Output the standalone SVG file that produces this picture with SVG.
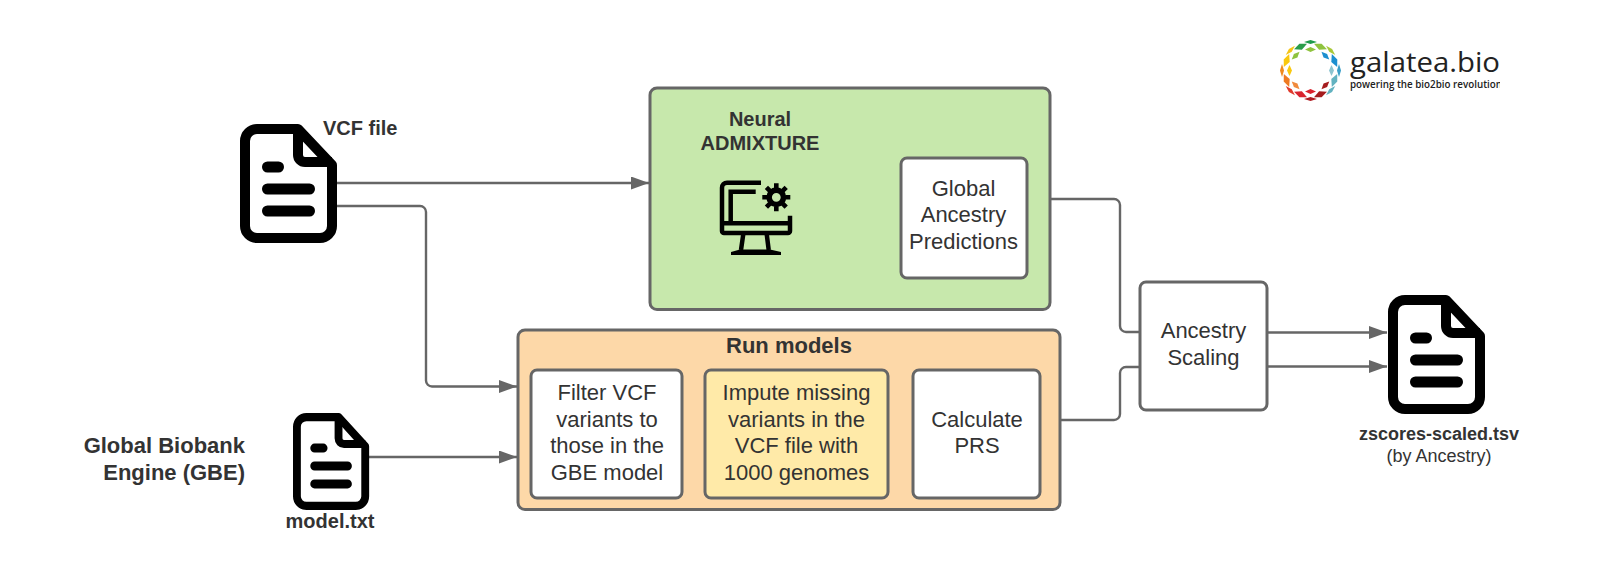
<svg xmlns="http://www.w3.org/2000/svg" width="1600" height="577" viewBox="0 0 1600 577">
<style>
text{font-family:"Liberation Sans",Arial,sans-serif;fill:#333}
.b{font-weight:700;font-size:20px}
.b22{font-weight:700;font-size:22px}
.t{font-size:22px;text-anchor:middle}
.m{text-anchor:middle}
.box{stroke:#666;stroke-width:3}
.c{fill:none;stroke:#666;stroke-width:2.400}
.ar{marker-end:url(#arrow)}
.k{fill:none;stroke:#000;stroke-width:4.500}
.lg{font-family:"Open Sans",sans-serif;fill:#222}
</style>
<defs>
<marker id="arrow" markerUnits="userSpaceOnUse" markerWidth="20" markerHeight="14" refX="18" refY="6.5" orient="auto"><path d="M0,0L18,6.5L0,13Z" fill="#666"/></marker>
<clipPath id="logoclip"><rect x="1345" y="40" width="155" height="60"/></clipPath>
<g id="doc">
<path d="M17,5H58L92,41V102a12,12 0 0 1-12,12H17a12,12 0 0 1-12-12V17a12,12 0 0 1 12-12Z" fill="#fff" stroke="#000" stroke-width="10" stroke-linejoin="round"/>
<path d="M58,5V31a7,7 0 0 0 7,7H92" fill="none" stroke="#000" stroke-width="10"/>
<path d="M27.500,43H38.500M27.500,65H69.500M27.500,87H69.500" fill="none" stroke="#000" stroke-width="11" stroke-linecap="round"/>
</g>
<path id="lo" d="M0,-30.500L6.500,-28.500L0,-26.500L-6.500,-28.500Z"/>
<path id="lm" d="M0,-29L7,-26L0,-22.500L-7,-26Z"/>
<path id="li" d="M0,-23.500L5.500,-21L0,-18.500L-5.500,-21Z"/>
</defs>
<rect width="1600" height="577" fill="#fff"/>
<g id="connectors">
<path class="c ar" d="M337,183H649"/>
<path class="c ar" d="M337,206H420a6,6 0 0 1 6,6V380.500a6,6 0 0 0 6,6H517"/>
<path class="c ar" d="M369,457H517"/>
<path class="c" d="M1051,199H1114a6,6 0 0 1 6,6V326a6,6 0 0 0 6,6H1140"/>
<path class="c" d="M1060,420H1114a6,6 0 0 0 6-6V373a6,6 0 0 1 6-6H1140"/>
<path class="c ar" d="M1267,332.500H1387"/>
<path class="c ar" d="M1267,366.500H1387"/>
</g>
<g id="vcf-file">
<use href="#doc" transform="translate(240,124)"/>
<text class="b" x="323" y="135">VCF file</text>
</g>
<g id="gbe-label">
<text class="b22" text-anchor="end" x="245" y="453">Global Biobank</text>
<text class="b22" text-anchor="end" x="245" y="480">Engine (GBE)</text>
</g>
<g id="model-file">
<use href="#doc" transform="translate(293,413) scale(.785,.815)"/>
<text class="b m" x="330" y="528">model.txt</text>
</g>
<g id="neural-admixture">
<rect class="box" x="650" y="88" width="400" height="221.500" rx="7" fill="#c7e8ac"/>
<text class="b m" x="760" y="126">Neural</text>
<text class="b m" x="760" y="150">ADMIXTURE</text>
<g id="computer-icon">
<path class="k" d="M761,182.700H727a5,5 0 0 0-5,5V231a2,2 0 0 0 2,2H788a2,2 0 0 0 2-2V215.700"/>
<path class="k" d="M755.700,191.700H730.700V223.300M722,223.300H790"/>
<path class="k" d="M743.300,234L741,250M766.700,234L768.700,250"/>
<path d="M731,255V252L740,249.500H770L781,252V255Z"/>
<g transform="translate(776.300,197.300)">
<circle r="7.200" fill="none" stroke="#000" stroke-width="5.600"/>
<path d="M0,-14V14M-14,0H14M-9.900,-9.900L9.900,9.900M9.900,-9.900L-9.900,9.900" stroke="#000" stroke-width="4.600" stroke-dasharray="5 18"/>
</g>
</g>
</g>
<g id="global-ancestry-predictions">
<rect class="box" x="901" y="158" width="126" height="120" rx="6" fill="#fff"/>
<text class="t" x="963.500" y="196">Global</text>
<text class="t" x="963.500" y="222">Ancestry</text>
<text class="t" x="963.500" y="249">Predictions</text>
</g>
<g id="run-models">
<rect class="box" x="518" y="330" width="542" height="179.500" rx="7" fill="#fdd8a8"/>
<text class="b22 m" x="789" y="353">Run models</text>
</g>
<g id="filter-variants">
<rect class="box" x="531" y="370" width="151" height="128" rx="6" fill="#fff"/>
<text class="t" x="607" y="400">Filter VCF</text>
<text class="t" x="607" y="426.500">variants to</text>
<text class="t" x="607" y="453">those in the</text>
<text class="t" x="607" y="479.500">GBE model</text>
</g>
<g id="impute-variants">
<rect class="box" x="705" y="370" width="183" height="128" rx="6" fill="#ffeaa8"/>
<text class="t" x="796.500" y="400">Impute missing</text>
<text class="t" x="796.500" y="426.500">variants in the</text>
<text class="t" x="796.500" y="453">VCF file with</text>
<text class="t" x="796.500" y="479.500">1000 genomes</text>
</g>
<g id="calculate-prs">
<rect class="box" x="913" y="370" width="127" height="128" rx="6" fill="#fff"/>
<text class="t" x="977" y="426.500">Calculate</text>
<text class="t" x="977" y="453">PRS</text>
</g>
<g id="ancestry-scaling">
<rect class="box" x="1140" y="282" width="127" height="128" rx="6" fill="#fff"/>
<text class="t" x="1203.500" y="338">Ancestry</text>
<text class="t" x="1203.500" y="365">Scaling</text>
</g>
<g id="zscores-file">
<use href="#doc" transform="translate(1388,295)"/>
<text class="m" x="1439" y="440" font-size="18" font-weight="700">zscores-scaled.tsv</text>
<text class="m" x="1439" y="462" font-size="18">(by Ancestry)</text>
</g>
<g id="logo">
<g transform="translate(1310.500,70.500)">
<use href="#lo" fill="#1f9b4b"/><use href="#lo" transform="rotate(45)" fill="#a8c83a"/><use href="#lo" transform="rotate(90)" fill="#3a9fc8"/><use href="#lo" transform="rotate(135)" fill="#62b2c0"/><use href="#lo" transform="rotate(180)" fill="#b01c22"/><use href="#lo" transform="rotate(225)" fill="#e03a2c"/><use href="#lo" transform="rotate(270)" fill="#f08a1d"/><use href="#lo" transform="rotate(315)" fill="#f5c518"/>
<use href="#lm" transform="rotate(22.500)" fill="#8fc33f"/><use href="#lm" transform="rotate(67.500)" fill="#1c8fd0"/><use href="#lm" transform="rotate(112.500)" fill="#62b2c0"/><use href="#lm" transform="rotate(157.500)" fill="#a51c1e"/><use href="#lm" transform="rotate(202.500)" fill="#d9232e"/><use href="#lm" transform="rotate(247.500)" fill="#ee7a22"/><use href="#lm" transform="rotate(292.500)" fill="#f9c80e"/><use href="#lm" transform="rotate(337.500)" fill="#2a9d4a"/>
<use href="#li" fill="#8fc33f"/><use href="#li" transform="rotate(45)" fill="#1c8fd0"/><use href="#li" transform="rotate(90)" fill="#8cc4d0"/><use href="#li" transform="rotate(135)" fill="#a51c1e"/><use href="#li" transform="rotate(180)" fill="#d9232e"/><use href="#li" transform="rotate(225)" fill="#f08a3d"/><use href="#li" transform="rotate(270)" fill="#f9c80e"/><use href="#li" transform="rotate(315)" fill="#8fc33f"/>
</g>
<g clip-path="url(#logoclip)">
<text class="lg" x="1350" y="72" font-size="27" textLength="150" lengthAdjust="spacingAndGlyphs">galatea.bio</text>
<text class="lg" x="1350" y="88" font-size="10.500" font-weight="600" textLength="152" lengthAdjust="spacingAndGlyphs">powering the bio2bio revolution</text>
</g>
</g>
</svg>
